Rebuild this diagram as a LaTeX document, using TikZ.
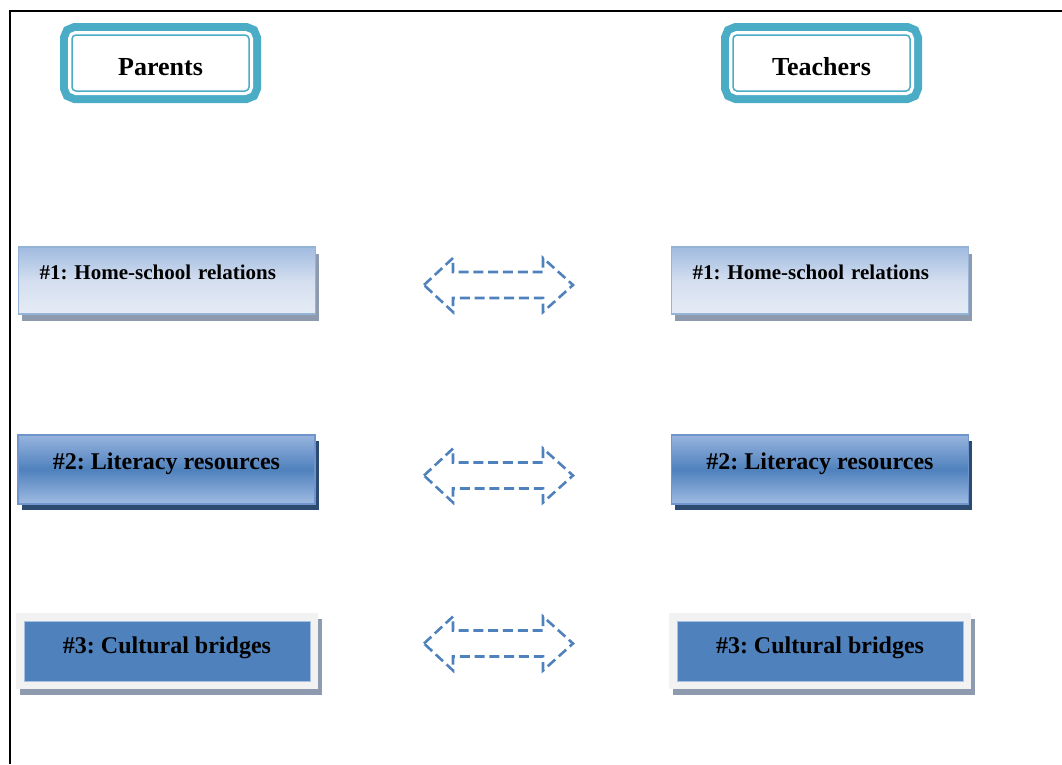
\documentclass[tikz,border=0pt]{standalone}
\usepackage{fontspec}
\setmainfont{Liberation Serif}
\frenchspacing
\definecolor{hdrteal}{HTML}{4BACC6}
\definecolor{lbedge}{HTML}{95B3D7}
\definecolor{lbblue}{HTML}{A0BBE0}
\definecolor{lbmid}{HTML}{D3DEEF}
\definecolor{lbpale}{HTML}{E6ECF5}
\definecolor{mbedge}{HTML}{6F96CC}
\definecolor{mbtop}{HTML}{97B4DE}
\definecolor{mbmid}{HTML}{4F81BD}
\definecolor{mbbot}{HTML}{A0BBE2}
\definecolor{navyshadow}{HTML}{2D4A71}
\definecolor{shgrey}{HTML}{8E9BAE}
\definecolor{framegrey}{HTML}{F2F2F2}
\definecolor{sbblue}{HTML}{4F81BD}
\definecolor{sbedge}{HTML}{A9C1E1}
\definecolor{arrblue}{HTML}{4F81BD}
\begin{document}
\begin{tikzpicture}[x=1pt,y=-1pt,
  header/.style={rectangle, rounded corners=4pt, minimum width=177pt,
    minimum height=56pt, inner sep=0pt, fill=white, draw=hdrteal,
    line width=1.5pt,
    preaction={draw=hdrteal, line width=24pt},
    preaction={draw=white, line width=8pt},
    font=\fontsize{26}{30}\selectfont\bfseries,
    text height=24pt, text depth=0pt},
  lightbox/.style={rectangle, minimum width=297pt, minimum height=67pt,
    inner sep=0pt, draw=lbedge, line width=1.2pt,
    preaction={fill=shgrey, transform canvas={shift={(3.5pt,-7pt)}}},
    top color=lbblue, bottom color=lbpale, middle color=lbmid,
    font=\fontsize{21}{25}\selectfont\bfseries,
    text width=255pt, align=left, text height=14pt, text depth=17pt},
  midbox/.style={rectangle, minimum width=297pt, minimum height=69pt,
    inner sep=0pt, draw=mbedge, line width=1.2pt,
    preaction={fill=navyshadow, transform canvas={shift={(3.5pt,-6pt)}}},
    top color=mbtop, bottom color=mbbot, middle color=mbmid,
    font=\fontsize{24}{28}\selectfont\bfseries,
    text height=16pt, text depth=17pt},
  solidbox/.style={rectangle, minimum width=286pt, minimum height=60pt,
    inner sep=0pt, fill=sbblue, draw=sbedge, line width=1pt,
    preaction={draw=shgrey, fill=shgrey, line width=16pt,
      transform canvas={shift={(3.5pt,-6pt)}}},
    preaction={draw=framegrey, line width=16pt},
    font=\fontsize{24}{28}\selectfont\bfseries,
    text height=16pt, text depth=12pt},
  twoway/.style={draw=arrblue, line width=2.6pt,
    dash pattern=on 10pt off 4.8pt, line join=miter}
]
\useasboundingbox (0,0) rectangle (1062,764);

% page frame (top and left edges)
\draw[line width=2.4pt] (10,764) -- (10,11) -- (1062,11);

% column headers
\node[header] (parents) at (160.5,63) {Parents};
\node[header] (teachers) at (821.5,63) {Teachers};

% themes, parents' side
\node[lightbox] (p1) at (167,280.5) {\#1: Home-school relations};
\node[midbox] (p2) at (166.5,469.5) {\#2: Literacy resources};
\node[solidbox] (p3) at (167,651) {\#3: Cultural bridges};

% themes, teachers' side
\node[lightbox] (t1) at (820,280.5) {\#1: Home-school relations};
\node[midbox] (t2) at (820,469.5) {\#2: Literacy resources};
\node[solidbox] (t3) at (820,651) {\#3: Cultural bridges};

% dashed two-way arrows between the columns
\coordinate (m1) at (498.5,285);
\coordinate (m2) at (498.5,475.5);
\coordinate (m3) at (498.5,643.5);
\foreach \m in {m1,m2,m3}{
  \draw[twoway, shift={(\m)}] (-74.5,0) -- (-45.5,-27) -- (-45.5,-13)
    -- (44.5,-13) -- (44.5,-27) -- (74.5,0) -- (44.5,27) -- (44.5,13)
    -- (-45.5,13) -- (-45.5,27) -- cycle;
}
\end{tikzpicture}
\end{document}
